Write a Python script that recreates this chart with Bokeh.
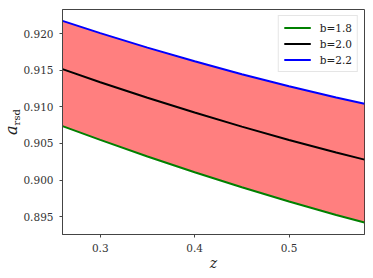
from bokeh.plotting import figure
from bokeh.models import FixedTicker, NumeralTickFormatter, Range1d, Legend, LegendItem, Div
from bokeh.layouts import row
from bokeh.embed import file_html
from bokeh.resources import INLINE

z = [0.26, 0.30, 0.35, 0.40, 0.45, 0.50, 0.55, 0.58]
a_b18 = [0.90737, 0.90549, 0.90323, 0.90108, 0.89903, 0.89708, 0.89523, 0.89421]
a_b20 = [0.91514, 0.91336, 0.91124, 0.90922, 0.90730, 0.90548, 0.90376, 0.90280]
a_b22 = [0.92173, 0.92006, 0.91808, 0.91621, 0.91445, 0.91280, 0.91126, 0.91042]
labels = ["b=1.8", "b=2.0", "b=2.2"]
colors = ["green", "black", "blue"]
y_ticks = [0.895, 0.900, 0.905, 0.910, 0.915, 0.920]
x_ticks = [0.3, 0.4, 0.5]

FONT = "DejaVu Serif"
X0, X1 = 0.26, 0.58
Y0, Y1 = 0.89258, 0.92328

p = figure(width=353, height=278, output_backend="svg", toolbar_location=None,
           x_range=Range1d(X0, X1), y_range=Range1d(Y0, Y1),
           min_border_left=42, min_border_right=9, min_border_top=9, min_border_bottom=44)

p.varea(x=z, y1=a_b18, y2=a_b22, fill_color="#ff0000", fill_alpha=0.5)
r1 = p.line(z, a_b18, line_color=colors[0], line_width=2)
r2 = p.line(z, a_b20, line_color=colors[1], line_width=2)
r3 = p.line(z, a_b22, line_color=colors[2], line_width=2)

legend = Legend(items=[LegendItem(label=labels[0], renderers=[r1]),
                       LegendItem(label=labels[1], renderers=[r2]),
                       LegendItem(label=labels[2], renderers=[r3])],
                location="top_right")
legend.label_text_font = FONT
legend.label_text_font_size = "10.5px"
legend.label_text_color = "#222222"
legend.glyph_width = 27
legend.glyph_height = 13
legend.label_height = 13
legend.label_standoff = 9
legend.spacing = 3
legend.padding = 5
legend.margin = 6
legend.border_line_color = "#cccccc"
legend.border_line_width = 1
legend.background_fill_alpha = 0.8
p.add_layout(legend)

p.xgrid.visible = False
p.ygrid.visible = False
p.outline_line_color = "#444444"
p.outline_line_width = 1

for ax in (p.xaxis[0], p.yaxis[0]):
    ax.axis_line_color = "#444444"
    ax.major_tick_line_color = "#444444"
    ax.major_tick_in = 0
    ax.major_tick_out = 3
    ax.minor_tick_line_color = None
    ax.major_label_text_font = FONT
    ax.major_label_text_font_size = "10.5px"
    ax.major_label_text_color = "#333333"
    ax.major_label_standoff = 6

p.xaxis.ticker = FixedTicker(ticks=x_ticks)
p.xaxis.formatter = NumeralTickFormatter(format="0.0")
p.yaxis.ticker = FixedTicker(ticks=y_ticks)
p.yaxis.formatter = NumeralTickFormatter(format="0.000")

p.xaxis.axis_label = "z"
p.xaxis.axis_label_text_font = FONT
p.xaxis.axis_label_text_font_style = "italic"
p.xaxis.axis_label_text_font_size = "14px"
p.xaxis.axis_label_text_color = "#222222"
p.xaxis.axis_label_standoff = 0

ylabel = Div(width=20, height=278, margin=0, text=(
    '<div style="position:relative;width:20px;height:278px;">'
    '<div style="position:absolute;left:13px;top:122px;transform:translate(-50%,-50%) rotate(-90deg);'
    'white-space:nowrap;font-family:\'DejaVu Serif\';color:#222;line-height:1;">'
    '<i style="font-size:16px;">a</i><sub style="font-size:10px;">rsd</sub>'
    '</div></div>'))

layout = row(ylabel, p)
open("out.html", "w").write(file_html(layout, INLINE))
